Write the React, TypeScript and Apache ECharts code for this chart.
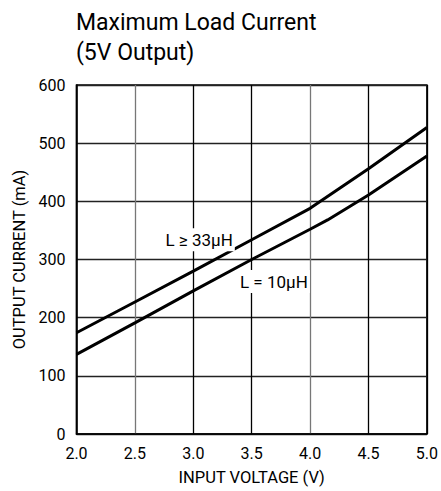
import React, { useEffect, useRef } from "react";
import * as echarts from "echarts";

const titleLines = ["Maximum Load Current", "(5V Output)"];
const xAxisName = "INPUT VOLTAGE (V)";
const yAxisName = "OUTPUT CURRENT (mA)";

const voltage33 = [2.0, 2.5, 3.0, 3.5, 4.0, 4.5, 5.0];
const current33 = [174, 227, 280, 334, 388, 456, 527];

const voltage10 = [2.0, 2.5, 3.0, 3.5, 4.0, 4.15, 4.5, 5.0];
const current10 = [137, 191, 246, 300, 352, 368, 411, 478];

const labelTexts = ["L ≥ 33µH", "L = 10µH"];
const labelCoords = [
  [3.05, 334],
  [3.69, 262],
];

const FONT = "Roboto, 'Liberation Sans', sans-serif";

export default function App() {
  const ref = useRef<HTMLDivElement>(null);
  useEffect(() => {
    if (!ref.current) return;
    const chart = echarts.init(ref.current, null, { renderer: "svg" });
    const pairs = (xs: number[], ys: number[]) => xs.map((x, i) => [x, ys[i]]);
    const annot = (i: number) => ({
      coord: labelCoords[i],
      label: {
        show: true,
        formatter: labelTexts[i],
        position: "inside",
        fontFamily: FONT,
        fontSize: 17,
        color: "#000",
        backgroundColor: "#fff",
        padding: [3, 2],
      },
    });
    chart.setOption({
      animation: false,
      backgroundColor: "#fff",
      title: {
        text: titleLines.join("\n"),
        left: 76,
        top: 7,
        padding: 0,
        textStyle: {
          fontFamily: FONT,
          fontSize: 23,
          fontWeight: "normal",
          lineHeight: 30,
          color: "#000",
        },
      },
      grid: {
        left: 76.5,
        right: 13,
        top: 85,
        bottom: 56,
        show: true,
        borderColor: "#000",
        borderWidth: 1.5,
      },
      xAxis: {
        type: "value",
        min: 2,
        max: 5,
        interval: 0.5,
        name: xAxisName,
        nameLocation: "middle",
        nameGap: 35,
        nameTextStyle: { fontFamily: FONT, fontSize: 16.5, color: "#000" },
        axisLine: { show: true, lineStyle: { color: "#000", width: 1.5 } },
        axisTick: { show: false },
        axisLabel: {
          fontFamily: FONT,
          fontSize: 16,
          color: "#000",
          margin: 11,
          formatter: (v: number) => v.toFixed(1),
        },
        splitLine: {
          show: true,
          lineStyle: {
            color: ["#000", "#777", "#000", "#000", "#777", "#000", "#000"],
            width: 1.3,
          },
        },
      },
      yAxis: {
        type: "value",
        min: 0,
        max: 600,
        interval: 100,
        name: yAxisName,
        nameLocation: "middle",
        nameGap: 41,
        nameTextStyle: { fontFamily: FONT, fontSize: 16.5, color: "#000" },
        axisLine: { show: true, lineStyle: { color: "#000", width: 1.5 } },
        axisTick: { show: false },
        axisLabel: {
          fontFamily: FONT,
          fontSize: 16,
          color: "#000",
          margin: 11,
        },
        splitLine: { show: true, lineStyle: { color: "#222", width: 1.3 } },
      },
      series: [
        {
          type: "line",
          data: pairs(voltage33, current33),
          showSymbol: false,
          lineStyle: { color: "#000", width: 3 },
          z: 3,
          markPoint: { symbol: "rect", symbolSize: 0, data: [annot(0)] },
        },
        {
          type: "line",
          data: pairs(voltage10, current10),
          showSymbol: false,
          lineStyle: { color: "#000", width: 3 },
          z: 3,
          markPoint: { symbol: "rect", symbolSize: 0, data: [annot(1)] },
        },
      ],
    });
    return () => chart.dispose();
  }, []);
  return (
    <div
      ref={ref}
      style={{ position: "fixed", left: 0, top: 0, width: 441, height: 491 }}
    />
  );
}
